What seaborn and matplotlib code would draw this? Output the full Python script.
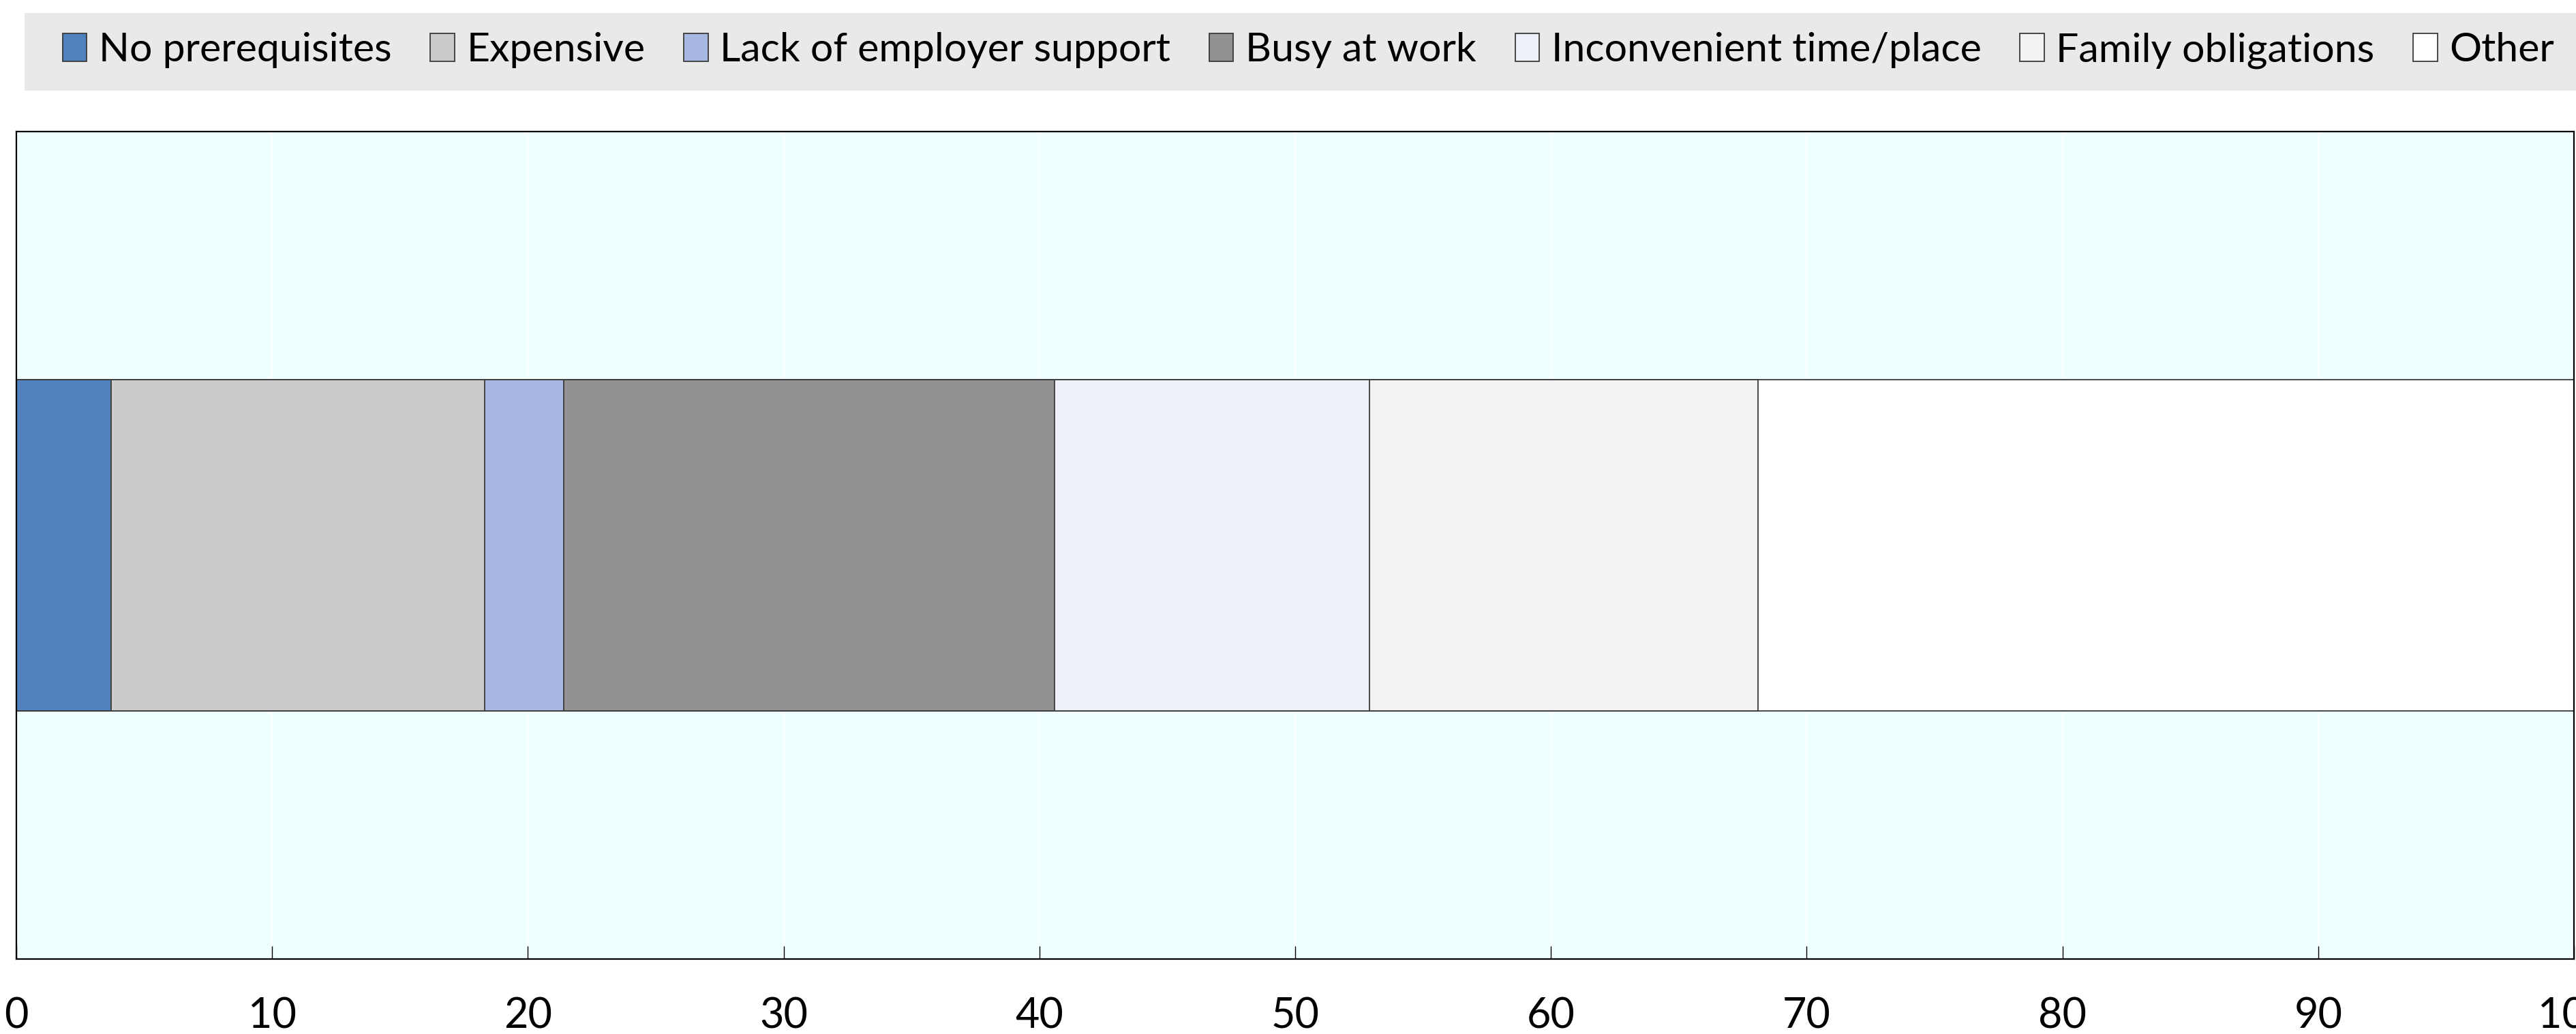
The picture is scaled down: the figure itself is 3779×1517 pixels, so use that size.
import numpy as np
import pandas as pd
import matplotlib
matplotlib.use("Agg")
import matplotlib.pyplot as plt
from matplotlib.patches import Patch, Rectangle
import seaborn as sns

# Reasons for not participating in training (share of respondents, %)
reasons = ["No prerequisites", "Expensive", "Lack of employer support",
           "Busy at work", "Inconvenient time/place", "Family obligations", "Other"]
shares = [3.7, 14.6, 3.1, 19.2, 12.3, 15.2, 31.9]
colors = ["#4F81BD", "#CBCBCB", "#A7B8E2", "#929292", "#EDF0F8", "#F2F2F2", "#FFFFFF"]
group = ["All"]
x_ticks = [0, 10, 20, 30, 40, 50, 60, 70, 80, 90, 100]

sns.set_theme(style="white")
plt.rcParams["font.family"] = ["Lato", "DejaVu Sans"]

W, H, DPI = 3779, 1517, 100
fig = plt.figure(figsize=(W / DPI, H / DPI), dpi=DPI)
fig.patch.set_facecolor("white")

ax = fig.add_axes([24 / W, 1 - 1407 / H, (3776 - 24) / W, (1407 - 193) / H])
ax.set_facecolor("#F0FFFF")

# stacked bar: draw cumulative totals, longest first, so each segment shows its share
cum = np.cumsum(shares)
for i in range(len(shares) - 1, -1, -1):
    df = pd.DataFrame({"value": [cum[i]], "group": group})
    sns.barplot(data=df, x="value", y="group", orient="h", color=colors[i],
                saturation=1, width=0.4, edgecolor="#3A3A3A", linewidth=1.3, ax=ax)

ax.set_xlim(0, 100)
ax.set_ylim(0.5, -0.5)
ax.set_xticks(x_ticks)
ax.set_xticklabels([str(t) for t in x_ticks])
ax.set_yticks([])
ax.set_xlabel("")
ax.set_ylabel("")
ax.xaxis.grid(True, color="white", linewidth=1.2)
ax.set_axisbelow(True)
ax.tick_params(axis="x", direction="in", length=14, width=1.0, color="black",
               labelsize=44, pad=40, bottom=True, labelcolor="black")
for side, sp in ax.spines.items():
    sp.set_visible(True)
    sp.set_color("black")
    sp.set_linewidth(1.6)

# legend band across the top
fig.patches.append(Rectangle((36 / W, 1 - 133 / H), 1 - 36 / W, (133 - 19) / H,
                             transform=fig.transFigure, facecolor="#E9E9E9",
                             edgecolor="none", zorder=0))
handles = [Patch(facecolor=c, edgecolor="#3A3A3A", linewidth=1.3) for c in colors]
leg = fig.legend(handles, reasons, loc="center left",
                 bbox_to_anchor=(92 / W, 1 - 74 / H), ncol=7, frameon=False,
                 fontsize=42.5, handlelength=0.6, handleheight=0.68,
                 handletextpad=0.3, columnspacing=0.96, borderaxespad=0,
                 borderpad=0, labelcolor="black")

fig.savefig("out.png", dpi=DPI, facecolor="white")
